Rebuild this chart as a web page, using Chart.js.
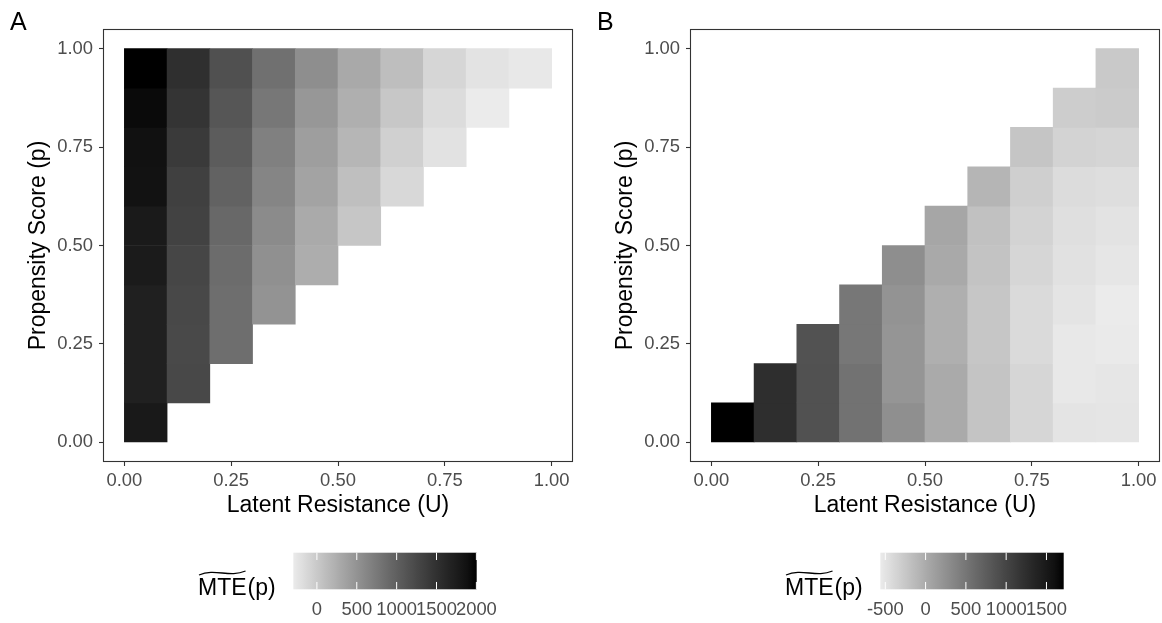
<!DOCTYPE html>
<html lang="en">
<head>
<meta charset="UTF-8">
<title>MTE heatmaps</title>
<script src="https://cdn.jsdelivr.net/npm/chart.js"></script>
<style>
  body { margin: 0; background: #fff; overflow: hidden; }
  canvas { position: absolute; top: 0; }
</style>
</head>
<body>
<canvas id="panelA" width="587" height="623" style="left:0"></canvas>
<canvas id="panelB" width="575" height="623" style="left:587px"></canvas>
<script>
// bin centres (width 0.1) on both axes
const BIN = 0.1;
const uBins = [0.05, 0.15, 0.25, 0.35, 0.45, 0.55, 0.65, 0.75, 0.85, 0.95];
const pBins = [0.05, 0.15, 0.25, 0.35, 0.45, 0.55, 0.65, 0.75, 0.85, 0.95];
const axisTicks = [0, 0.25, 0.5, 0.75, 1];

// Panel A: column k covers p bins k..9, listed bottom to top
const mteA = [
  [1785, 1705, 1700, 1698, 1760, 1772, 1868, 1880, 1938, 2004],
  [1250, 1240, 1250, 1269, 1311, 1334, 1400, 1467, 1524],
  [852, 858, 876, 916, 978, 1037, 1099, 1163],
  [498, 525, 572, 629, 678, 767, 837],
  [255, 283, 347, 394, 458, 545],
  [28, 92, 174, 236, 293],
  [-133, -61, 18, 100],
  [-219, -167, -113],
  [-296, -227],
  [-271]
];
// Panel B: column k covers p bins 0..k, listed bottom to top
const mteB = [
  [1714],
  [1249, 1245],
  [872, 874, 860],
  [539, 536, 492, 488],
  [260, 204, 206, 223, 270],
  [11, 14, -36, -33, 20, 50],
  [-224, -221, -241, -239, -215, -195, -87],
  [-381, -384, -418, -415, -381, -354, -320, -232],
  [-501, -538, -536, -501, -476, -459, -435, -354, -303],
  [-511, -520, -555, -562, -520, -493, -452, -374, -285, -266]
];
const legendTicksA = [0, 500, 1000, 1500, 2000];
const legendTicksB = [-500, 0, 500, 1000, 1500];

const FONT = '"Liberation Sans", Arial, Helvetica, sans-serif';
Chart.defaults.font.family = FONT;

// light grey -> black, interpolated on CIE lightness
const L_LOW = 93;
function greyFor(v, lo, hi) {
  const t = (v - lo) / (hi - lo);
  const L = L_LOW * (1 - t);
  const Y = L > 8 ? Math.pow((L + 16) / 116, 3) : L / 903.3;
  const s = Y <= 0.0031308 ? 12.92 * Y : 1.055 * Math.pow(Y, 1 / 2.4) - 0.055;
  const g = Math.round(Math.max(0, Math.min(1, s)) * 255);
  return `rgb(${g},${g},${g})`;
}

function buildCells(cols, fromDiagonal) {
  const out = [];
  cols.forEach((col, k) => {
    const first = fromDiagonal ? k : 0;
    col.forEach((v, j) => {
      const p = pBins[first + j];
      out.push({ x: uBins[k], y: [p - BIN / 2, p + BIN / 2], v: v });
    });
  });
  return out;
}

// panel frame, tag letter and colour bar
const panelDecor = {
  id: 'panelDecor',
  afterDraw(chart, args, opts) {
    const { ctx, chartArea: a } = chart;
    ctx.save();
    ctx.strokeStyle = '#333';
    ctx.lineWidth = 1.1;
    ctx.strokeRect(a.left + 0.5, a.top + 0.5, a.right - a.left - 1, a.bottom - a.top - 1);

    ctx.fillStyle = '#000';
    ctx.font = '25px ' + FONT;
    ctx.textAlign = 'left';
    ctx.textBaseline = 'alphabetic';
    ctx.fillText(opts.tag, 10, 30);

    // colour bar
    const { lo, hi, ticks } = opts;
    const bx = 293.3, by = 552.7, bw = 183.4, bh = 36.6;
    const grad = ctx.createLinearGradient(bx, 0, bx + bw, 0);
    for (let i = 0; i <= 40; i++) {
      grad.addColorStop(i / 40, greyFor(lo + (hi - lo) * i / 40, lo, hi));
    }
    ctx.fillStyle = grad;
    ctx.fillRect(bx, by, bw, bh);
    ctx.strokeStyle = '#fff';
    ctx.lineWidth = 1;
    ctx.font = '18.4px ' + FONT;
    ctx.textAlign = 'center';
    ctx.textBaseline = 'middle';
    ctx.fillStyle = '#4d4d4d';
    ticks.forEach(t => {
      const x = bx + (t - lo) / (hi - lo) * bw;
      ctx.beginPath();
      ctx.moveTo(x, by); ctx.lineTo(x, by + bh / 5);
      ctx.moveTo(x, by + bh - bh / 5); ctx.lineTo(x, by + bh);
      ctx.stroke();
      ctx.fillText(String(t), x, 609.5);
    });

    // legend title with wide tilde over MTE
    ctx.fillStyle = '#000';
    ctx.strokeStyle = '#000';
    ctx.font = '23px ' + FONT;
    ctx.textAlign = 'left';
    ctx.textBaseline = 'alphabetic';
    const tx = 198;
    ctx.fillText('MTE', tx, 595);
    const w = ctx.measureText('MTE').width;
    ctx.fillText('(p)', tx + w + 1, 595);
    const x0 = tx + 1, x1 = tx + w - 1, ty = 573;
    ctx.beginPath();
    ctx.moveTo(x0, ty + 2);
    ctx.bezierCurveTo(x0 + (x1 - x0) * 0.35, ty - 5, x0 + (x1 - x0) * 0.65, ty + 5, x1, ty - 2);
    ctx.lineWidth = 1.3;
    ctx.stroke();
    ctx.restore();
  }
};

function makePanel(id, tag, cols, fromDiagonal, legendTicks, padRight) {
  const all = cols.flat();
  const lo = Math.min(...all), hi = Math.max(...all);
  const tickFont = { size: 18.4 };
  const titleFont = { size: 23, lineHeight: 1 };
  new Chart(document.getElementById(id), {
    type: 'bar',
    data: {
      datasets: [{
        data: buildCells(cols, fromDiagonal),
        backgroundColor: c => c.raw ? greyFor(c.raw.v, lo, hi) : '#fff',
        borderWidth: 0,
        categoryPercentage: 1,
        barPercentage: 1,
        grouped: false
      }]
    },
    options: {
      responsive: false,
      animation: false,
      devicePixelRatio: 1,
      layout: { padding: { left: 0, top: 29, right: padRight, bottom: 101 } },
      plugins: {
        legend: { display: false },
        tooltip: { enabled: false },
        panelDecor: { tag: tag, lo: lo, hi: hi, ticks: legendTicks }
      },
      scales: {
        x: {
          type: 'linear', min: -0.05, max: 1.05, offset: false,
          afterBuildTicks: s => { s.ticks = axisTicks.map(v => ({ value: v })); },
          afterFit: s => { s.height = 60; },
          grid: { offset: false, drawOnChartArea: false, tickLength: 4, tickColor: '#333', tickWidth: 1.1 },
          border: { display: false },
          ticks: { callback: v => v.toFixed(2), font: tickFont, color: '#4d4d4d', padding: 4, maxRotation: 0, autoSkip: false },
          title: { display: true, text: 'Latent Resistance (U)', color: '#000', font: titleFont, padding: { top: 0, bottom: 4.5 } }
        },
        y: {
          type: 'linear', min: -0.05, max: 1.05, beginAtZero: false,
          afterBuildTicks: s => { s.ticks = axisTicks.map(v => ({ value: v })); },
          afterFit: s => { s.width = 103; },
          grid: { drawOnChartArea: false, tickLength: 4, tickColor: '#333', tickWidth: 1.1 },
          border: { display: false },
          ticks: { callback: v => v.toFixed(2), font: tickFont, color: '#4d4d4d', padding: 6, autoSkip: false },
          title: { display: true, text: 'Propensity Score (p)', color: '#000', font: titleFont, padding: { top: 27.5, bottom: 0 } }
        }
      }
    },
    plugins: [panelDecor]
  });
}

makePanel('panelA', 'A', mteA, true, legendTicksA, 14);
makePanel('panelB', 'B', mteB, false, legendTicksB, 2);
</script>
</body>
</html>
